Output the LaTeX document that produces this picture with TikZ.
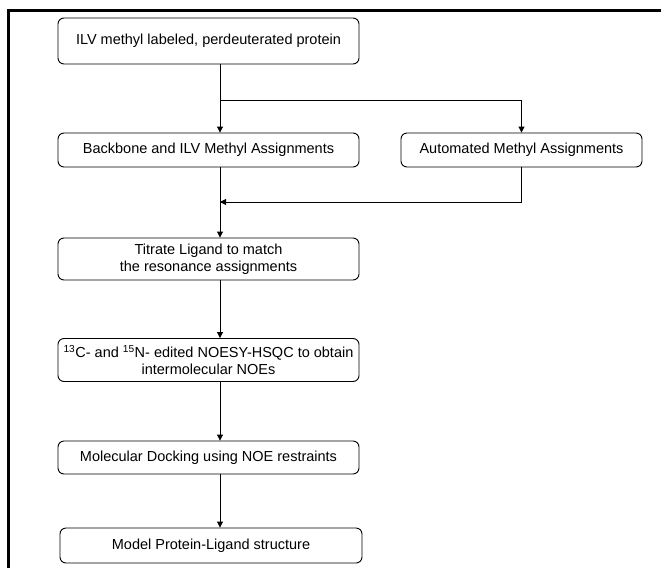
\documentclass[tikz,border=0pt]{standalone}
\usepackage{fontspec}
\setmainfont{Liberation Sans}
\usetikzlibrary{arrows.meta}

\tikzset{
  stepbox/.style={draw,rounded corners=6pt,line width=0.9pt,minimum width=301pt,
    align=center,inner sep=1pt,font=\fontsize{14.5}{16.5}\selectfont},
  flow/.style={line width=0.9pt,-{Triangle[length=6pt,width=6pt]}}
}

\begin{document}
\begin{tikzpicture}[x=1pt,y=-1pt]
\useasboundingbox (0,0) rectangle (661,568);
% frame
\draw[line width=3pt] (8.5,568) -- (8.5,10) -- (661,10);
% boxes
\node[stepbox,minimum height=46pt] (prot) at (208.5,41) {ILV methyl labeled, perdeuterated protein};
\node[stepbox,minimum height=34pt] (bb) at (208.5,150) {Backbone and ILV Methyl Assignments};
\node[stepbox,minimum height=34pt,minimum width=241pt] (auto) at (521.5,150) {Automated Methyl Assignments};
\node[stepbox,minimum height=42pt] (titr) at (208.5,259) {Titrate Ligand to match\\the resonance assignments};
\node[stepbox,minimum height=43pt] (noesy) at (208.5,360) {\textsuperscript{13}C- and \textsuperscript{15}N- edited NOESY-HSQC to obtain\\intermolecular NOEs};
\node[stepbox,minimum height=33pt] (dock) at (208.5,457.5) {Molecular Docking using NOE restraints};
\node[stepbox,minimum height=35pt,minimum width=302pt] (model) at (211,545.5) {Model Protein-Ligand structure};
% connectors
\coordinate (spine) at (220,0);
\coordinate (split) at (220,100);
\coordinate (merge) at (220,202);
\draw[flow] (prot.south -| spine) -- (bb.north -| spine);
\draw[flow] (split) -| (auto.north);
\draw[flow] (auto.south) |- (merge);
\draw[flow] (bb.south -| spine) -- (titr.north -| spine);
\draw[flow] (titr.south -| spine) -- (noesy.north -| spine);
\draw[flow] (noesy.south -| spine) -- (dock.north -| spine);
\draw[flow] (dock.south -| spine) -- (model.north -| spine);
\end{tikzpicture}
\end{document}
